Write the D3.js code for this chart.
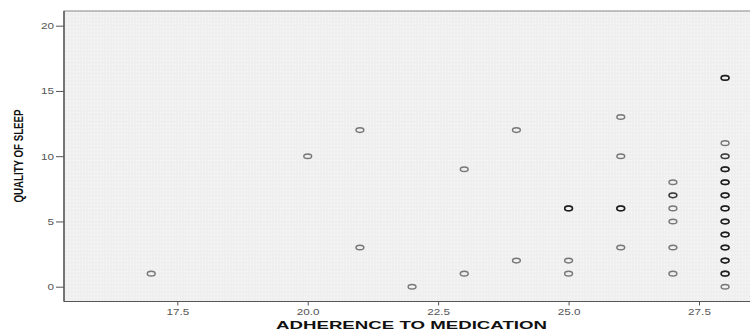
<!DOCTYPE html>
<html>
<head>
<meta charset="utf-8">
<script src="https://cdn.jsdelivr.net/npm/d3@7"></script>
<style>
  body { margin: 0; background: #fff; }
  svg { display: block; }
  .ticklab { font-family: "Liberation Sans", Arial, sans-serif; font-size: 9px; fill: #555; }
  .axlab { font-family: "Liberation Sans", Arial, sans-serif; font-weight: bold; fill: #111; }
</style>
</head>
<body>
<div id="chart"></div>
<script>
// values (x = adherence, y = quality of sleep)
// count = how many cases sit on the same spot (darker rings)
const adherence = [17, 20, 21, 21, 22, 23, 23, 24, 24, 25, 25, 25,
                   26, 26, 26, 26, 27, 27, 27, 27, 27, 27,
                   28, 28, 28, 28, 28, 28, 28, 28, 28, 28, 28, 28, 28];
const sleep     = [1, 10, 12, 3, 0, 9, 1, 12, 2, 6, 2, 1,
                   13, 10, 6, 3, 8, 7, 6, 5, 3, 1,
                   16, 11, 10, 9, 8, 7, 6, 5, 4, 3, 2, 1, 0];
const count     = [1, 1, 1, 1, 1, 1, 1, 1, 1, 3, 1, 1,
                   1, 1, 3, 1, 1, 2, 1, 1, 1, 1,
                   3, 1, 2, 3, 3, 3, 3, 3, 3, 3, 3, 3, 1];

const xTicks = [17.5, 20.0, 22.5, 25.0, 27.5];
const yTicks = [0, 5, 10, 15, 20];

const W = 750, H = 331;
const pLeft = 64, pTop = 11, pBottom = 301.5, pRight = 762;

const svg = d3.select("#chart").append("svg")
  .attr("width", W).attr("height", H);

const x = d3.scaleLinear().domain([17.5, 27.5]).range([177.3, 699]);
const y = d3.scaleLinear().domain([0, 20]).range([286.7, 25.7]);

// dotted grey plot background
const defs = svg.append("defs");
const pat = defs.append("pattern")
  .attr("id", "dots").attr("patternUnits", "userSpaceOnUse")
  .attr("width", 3).attr("height", 3.7);
pat.append("rect").attr("width", 3).attr("height", 3.7).attr("fill", "#efefef");
pat.append("rect").attr("x", 1).attr("y", 1).attr("width", 1).attr("height", 1)
  .attr("fill", "#ffffff").attr("opacity", 0.8);

svg.append("rect")
  .attr("x", pLeft).attr("y", pTop)
  .attr("width", pRight - pLeft).attr("height", pBottom - pTop)
  .attr("fill", "url(#dots)")
  .attr("stroke", "#888").attr("stroke-width", 1);

// frame lines
svg.append("line").attr("x1", pLeft).attr("x2", pLeft).attr("y1", pTop).attr("y2", pBottom)
  .attr("stroke", "#444").attr("stroke-width", 1.2);
svg.append("line").attr("x1", pLeft).attr("x2", pRight).attr("y1", pBottom).attr("y2", pBottom)
  .attr("stroke", "#555").attr("stroke-width", 1.2);

// axes
const yAxis = d3.axisLeft(y).tickValues(yTicks).tickSize(8).tickPadding(2)
  .tickFormat(d3.format("d"));
const gy = svg.append("g").attr("transform", "translate(" + pLeft + ",0)").call(yAxis);
gy.select(".domain").remove();
gy.selectAll("line").attr("stroke", "#555");
gy.selectAll("text").attr("class", "ticklab").attr("font-size", null).attr("font-family", null);

const xAxis = d3.axisBottom(x).tickValues(xTicks).tickSize(4).tickPadding(3)
  .tickFormat(d3.format(".1f"));
const gx = svg.append("g").attr("transform", "translate(0," + pBottom + ")").call(xAxis);
gx.select(".domain").remove();
gx.selectAll("line").attr("stroke", "#555");
gx.selectAll("text").attr("class", "ticklab").attr("font-size", null).attr("font-family", null);

// the picture is stretched sideways, so widen the tick labels a bit
svg.selectAll(".ticklab").each(function() {
  const w = this.getComputedTextLength();
  d3.select(this).attr("textLength", w * 1.3).attr("lengthAdjust", "spacingAndGlyphs");
});

// points: one ring per case, overlaps get darker
const pts = [];
adherence.forEach(function(a, i) {
  for (let k = 0; k < count[i]; k++) pts.push({ a: a, s: sleep[i] });
});

svg.append("g").selectAll("ellipse")
  .data(pts)
  .enter()
  .append("ellipse")
    .attr("cx", function(d) { return x(d.a); })
    .attr("cy", function(d) { return y(d.s); })
    .attr("rx", 3.9)
    .attr("ry", 2.3)
    .attr("fill", "none")
    .attr("stroke", "#000")
    .attr("stroke-opacity", 0.5)
    .attr("stroke-width", 1.5);

// axis titles
svg.append("text")
  .attr("class", "axlab")
  .attr("x", 411.5).attr("y", 329)
  .attr("text-anchor", "middle")
  .attr("font-size", 11)
  .attr("textLength", 271).attr("lengthAdjust", "spacingAndGlyphs")
  .text("ADHERENCE TO MEDICATION");

svg.append("text")
  .attr("class", "axlab")
  .attr("transform", "translate(23,156) scale(1.3,1) rotate(-90)")
  .attr("text-anchor", "middle")
  .attr("font-size", 10.5)
  .attr("textLength", 93).attr("lengthAdjust", "spacingAndGlyphs")
  .text("QUALITY OF SLEEP");
</script>
</body>
</html>
